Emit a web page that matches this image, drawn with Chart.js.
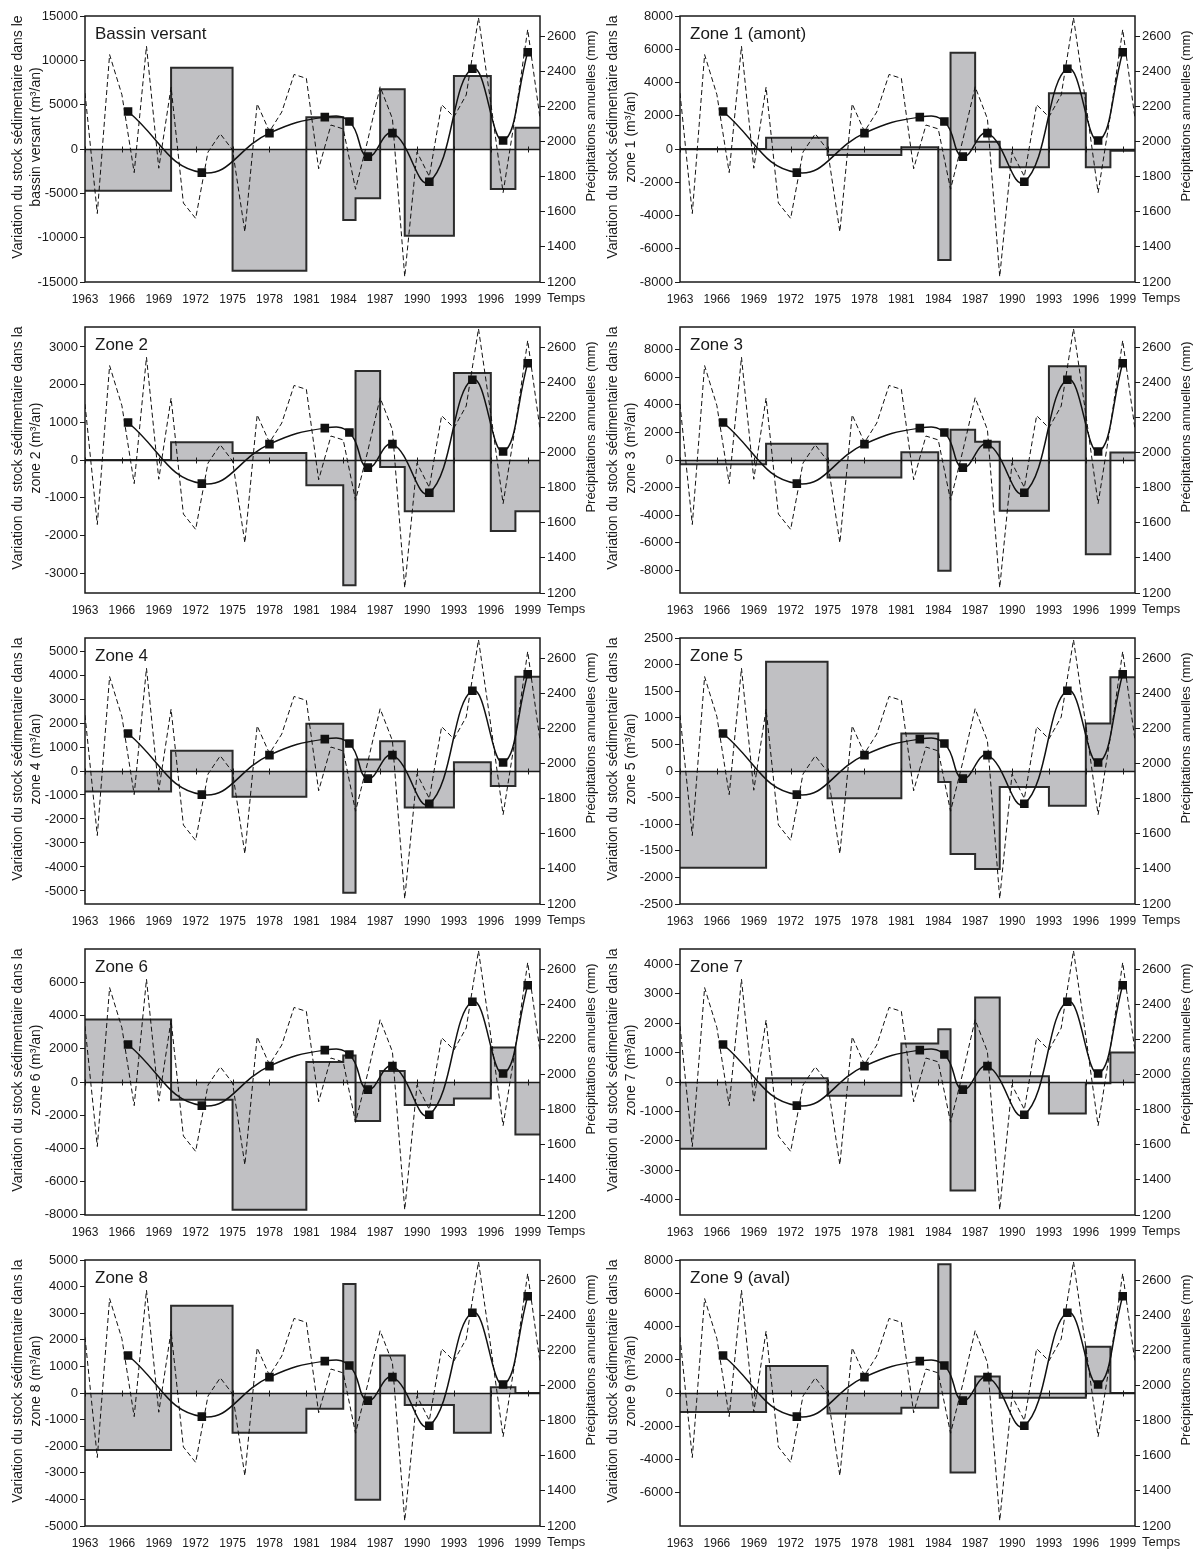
<!DOCTYPE html>
<html>
<head>
<meta charset="utf-8">
<script src="https://cdn.jsdelivr.net/npm/chart.js@4.4.1/dist/chart.umd.min.js"></script>
<style>
  body { margin: 0; background: #fff; width: 1201px; height: 1553px; position: relative; overflow: hidden; }
  .panel { position: absolute; width: 600px; height: 311px; }
</style>
</head>
<body>
<div id="grid"></div>
<script>
// annual rainfall (right axis)
const years = [1963, 1964, 1965, 1966, 1967, 1968, 1969, 1970, 1971, 1972, 1973, 1974, 1975,
  1976, 1977, 1978, 1979, 1980, 1981, 1982, 1983, 1984, 1985, 1986, 1987, 1988, 1989,
  1990, 1991, 1992, 1993, 1994, 1995, 1996, 1997, 1998, 1999, 2000];
const precipitation = [2276, 1590, 2495, 2267, 1823, 2543, 1848, 2310, 1650, 1562, 1940, 2044, 1952,
  1486, 2215, 2057, 2168, 2382, 2360, 1845, 2094, 2072, 1728, 2010, 2312, 2130, 1230,
  1940, 1801, 2210, 2140, 2265, 2705, 2219, 1709, 2152, 2638, 2133];

// survey periods and mean rainfall of each period (smoothed curve)
const surveyYears = [1963, 1970, 1975, 1981, 1984, 1985, 1987, 1989, 1993, 1996, 1998, 2000];
const periodMidpoints = [1966.5, 1972.5, 1978, 1982.5, 1984.5, 1986, 1988, 1991, 1994.5, 1997, 1999];
const periodRainfall = [2171, 1823, 2048, 2139, 2114, 1914, 2048, 1771, 2415, 2006, 2509];

const yearTicks = [1963, 1966, 1969, 1972, 1975, 1978, 1981, 1984, 1987, 1990, 1993, 1996, 1999];
const rainTicks = [1200, 1400, 1600, 1800, 2000, 2200, 2400, 2600];

// sediment stock variation per period (m3/an)
const bassinVersant = [-4700, 9170, -13720, 3570, -8000, -5560, 6730, -9770, 8230, -4510, 2400];
const zone1 = [0, 680, -360, 100, -6670, 5790, 440, -1100, 3350, -1100, -100];
const zone2 = [0, 470, 187, -667, -3325, 2364, -187, -1360, 2311, -1884, -1360];
const zone3 = [-317, 1170, -1270, 560, -8020, 2195, 1317, -3680, 6800, -6830, 540];
const zone4 = [-850, 840, -1075, 1970, -5080, 475, 1243, -1520, 363, -630, 3925];
const zone5 = [-1820, 2053, -510, 705, -208, -1562, -1840, -302, -655, 894, 1763];
const zone6 = [3780, -1070, -7720, 1210, 1600, -2360, 670, -1390, -990, 2080, -3170];
const zone7 = [-2270, 125, -465, 1305, 1793, -3690, 2870, 193, -1067, -45, 1000];
const zone8 = [-2144, 3280, -1490, -593, 4100, -4010, 1412, -454, -1490, 214, 0];
const zone9 = [-1150, 1630, -1230, -885, 7740, -4780, 985, -280, -280, 2775, 0];

const panelTitles = ['Bassin versant', 'Zone 1 (amont)', 'Zone 2', 'Zone 3', 'Zone 4',
  'Zone 5', 'Zone 6', 'Zone 7', 'Zone 8', 'Zone 9 (aval)'];
const axisSubjects = ['bassin versant', 'zone 1', 'zone 2', 'zone 3', 'zone 4',
  'zone 5', 'zone 6', 'zone 7', 'zone 8', 'zone 9'];
const stockSeries = [bassinVersant, zone1, zone2, zone3, zone4, zone5, zone6, zone7, zone8, zone9];
const stockRanges = [15000, 8000, 3530, 9640, 5545, 2500, 8030, 4520, 5000, 8000];
const stockTicks = [
  [-15000, -10000, -5000, 0, 5000, 10000, 15000],
  [-8000, -6000, -4000, -2000, 0, 2000, 4000, 6000, 8000],
  [-3000, -2000, -1000, 0, 1000, 2000, 3000],
  [-8000, -6000, -4000, -2000, 0, 2000, 4000, 6000, 8000],
  [-5000, -4000, -3000, -2000, -1000, 0, 1000, 2000, 3000, 4000, 5000],
  [-2500, -2000, -1500, -1000, -500, 0, 500, 1000, 1500, 2000, 2500],
  [-8000, -6000, -4000, -2000, 0, 2000, 4000, 6000],
  [-4000, -3000, -2000, -1000, 0, 1000, 2000, 3000, 4000],
  [-5000, -4000, -3000, -2000, -1000, 0, 1000, 2000, 3000, 4000, 5000],
  [-6000, -4000, -2000, 0, 2000, 4000, 6000, 8000]
];

const FONT = '"Liberation Sans", Arial, sans-serif';
const INK = '#1a1a1a';
Chart.defaults.font.family = FONT;
Chart.defaults.color = INK;

// zero line, frame and texts
const decorPlugin = {
  id: 'decor',
  afterDatasetDraw(chart, args) {
    if (args.index !== 2) return;
    const { ctx, chartArea: a, scales } = chart;
    const y0 = Math.round(scales.y.getPixelForValue(0)) + 0.5;
    ctx.save();
    ctx.strokeStyle = INK;
    ctx.lineWidth = 1.5;
    ctx.beginPath();
    ctx.moveTo(a.left, y0);
    ctx.lineTo(a.right, y0);
    ctx.stroke();
    ctx.lineWidth = 1;
    ctx.beginPath();
    yearTicks.forEach(v => {
      const x = Math.round(scales.x.getPixelForValue(v)) + 0.5;
      ctx.moveTo(x, y0 - 3);
      ctx.lineTo(x, y0 + 3);
    });
    ctx.stroke();
    ctx.restore();
  },
  afterDatasetsDraw(chart, args, opts) {
    const { ctx, chartArea: a } = chart;
    ctx.save();
    ctx.strokeStyle = INK;
    ctx.lineWidth = 1.5;
    ctx.strokeRect(a.left, a.top, a.right - a.left, a.bottom - a.top);

    ctx.fillStyle = INK;
    ctx.font = '17px ' + FONT;
    ctx.textAlign = 'left';
    ctx.textBaseline = 'alphabetic';
    ctx.fillText(opts.title, a.left + 10, a.top + 23);

    ctx.font = '13px ' + FONT;
    ctx.textBaseline = 'top';
    ctx.fillText('Temps', a.right + 7, a.bottom + 10);

    ctx.textAlign = 'center';
    ctx.textBaseline = 'middle';
    ctx.save();
    ctx.translate(a.right + 51, a.top + 100);
    ctx.rotate(-Math.PI / 2);
    ctx.fillText('Précipitations annuelles (mm)', 0, 0);
    ctx.restore();

    ctx.font = '14px ' + FONT;
    const cy = a.top + 121;
    ctx.save();
    ctx.translate(a.left - 67, cy);
    ctx.rotate(-Math.PI / 2);
    ctx.fillText(opts.axisLine1, 0, 0);
    ctx.restore();
    ctx.save();
    ctx.translate(a.left - 49, cy);
    ctx.rotate(-Math.PI / 2);
    ctx.fillText(opts.axisLine2, 0, 0);
    ctx.restore();
    ctx.restore();
  }
};

const grid = document.getElementById('grid');

stockSeries.forEach((values, i) => {
  const col = i % 2;
  const row = Math.floor(i / 2);
  const div = document.createElement('div');
  div.className = 'panel';
  div.style.left = (col * 595) + 'px';
  div.style.top = (row * 311) + 'px';
  const canvas = document.createElement('canvas');
  canvas.width = 600;
  canvas.height = 311;
  div.appendChild(canvas);
  grid.appendChild(div);

  const steps = surveyYears.map((yr, k) => ({ x: yr, y: values[Math.min(k, values.length - 1)] }));
  const article = i === 0 ? 'le' : 'la';

  new Chart(canvas, {
    type: 'line',
    data: {
      datasets: [
        {
          label: 'Précipitations moyennes par période',
          data: periodMidpoints.map((x, k) => ({ x, y: periodRainfall[k] })),
          yAxisID: 'y2',
          borderColor: '#111',
          borderWidth: 1.5,
          tension: 0.45,
          pointStyle: 'rect',
          pointRadius: 5,
          pointBackgroundColor: '#111',
          pointBorderColor: '#111',
          fill: false
        },
        {
          label: 'Précipitations annuelles',
          data: years.map((x, k) => ({ x, y: precipitation[k] })),
          yAxisID: 'y2',
          borderColor: '#111',
          borderWidth: 1,
          borderDash: [5, 3],
          pointRadius: 0,
          tension: 0,
          fill: false
        },
        {
          label: 'Variation du stock',
          data: steps,
          yAxisID: 'y',
          stepped: true,
          borderColor: '#2b2b2b',
          borderWidth: 2,
          backgroundColor: '#c0c0c3',
          pointRadius: 0,
          fill: 'origin'
        }
      ]
    },
    options: {
      responsive: false,
      animation: false,
      layout: { padding: { top: 16, left: 0, right: 0, bottom: 0 } },
      plugins: {
        legend: { display: false },
        tooltip: { enabled: false },
        decor: {
          title: panelTitles[i],
          axisLine1: 'Variation du stock sédimentaire dans ' + article,
          axisLine2: axisSubjects[i] + ' (m³/an)'
        }
      },
      scales: {
        x: {
          type: 'linear',
          min: 1963,
          max: 2000,
          grid: { display: false, drawTicks: false },
          border: { display: false },
          afterBuildTicks: s => { s.ticks = yearTicks.map(v => ({ value: v })); },
          afterFit: s => { s.height = 29; },
          ticks: {
            autoSkip: false,
            maxRotation: 0,
            padding: 10,
            font: { size: 12 },
            color: INK,
            callback: v => String(v)
          }
        },
        y: {
          position: 'left',
          min: -stockRanges[i],
          max: stockRanges[i],
          grid: { drawOnChartArea: false, drawTicks: true, tickLength: 5, color: INK },
          border: { display: false },
          afterBuildTicks: s => { s.ticks = stockTicks[i].map(v => ({ value: v })); },
          afterFit: s => { s.width = 85; },
          ticks: { padding: 2, font: { size: 13 }, color: INK, callback: v => String(v) }
        },
        y2: {
          position: 'right',
          min: 1200,
          max: 2715,
          grid: { drawOnChartArea: false, drawTicks: true, tickLength: 5, color: INK },
          border: { display: false },
          afterBuildTicks: s => { s.ticks = rainTicks.map(v => ({ value: v })); },
          afterFit: s => { s.width = 60; },
          ticks: { padding: 2, font: { size: 13 }, color: INK, callback: v => String(v) }
        }
      }
    },
    plugins: [decorPlugin]
  });
});
</script>
</body>
</html>
